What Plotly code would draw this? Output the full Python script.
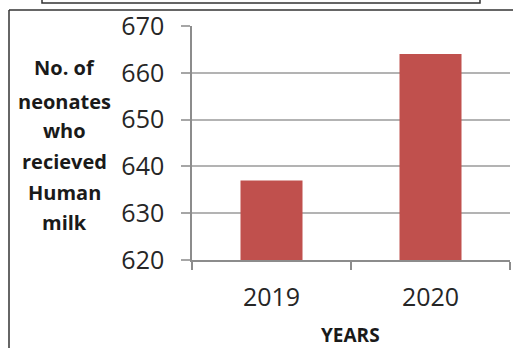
import plotly.graph_objects as go

years = ["2019", "2020"]
neonates = [637, 664]
y_title_lines = ["No. of", "neonates", "who", "recieved", "Human", "milk"]
x_title = "YEARS"

W, H = 513, 348
L, R, T, B = 192, 3, 26, 88
pw, ph = W - L - R, H - T - B

def px(x):
    return (x - L) / pw

def py(y):
    return 1 - (y - T) / ph

fig = go.Figure(go.Bar(x=years, y=neonates, marker_color="#C0504D",
                       marker_line_width=0, width=0.39))

font = "Open Sans, Liberation Sans, sans-serif"
fig.update_layout(
    width=W, height=H, margin=dict(l=L, r=R, t=T, b=B),
    paper_bgcolor="white", plot_bgcolor="white", showlegend=False,
    bargap=0.61,
    xaxis=dict(showline=True, linecolor="#8c8c8c", linewidth=1.5,
               ticks="outside", tickson="boundaries", ticklen=8,
               tickcolor="#8c8c8c", tickwidth=1.5,
               tickfont=dict(family=font, size=25, color="#262626"),
               ticklabelstandoff=14, showgrid=False),
    yaxis=dict(range=[620, 670], dtick=10, showline=True, linecolor="#8c8c8c",
               linewidth=1.5, ticks="outside", ticklen=9, tickcolor="#a6a6a6",
               tickwidth=1.5, gridcolor="#b3b3b3", gridwidth=1.5,
               zeroline=False,
               tickfont=dict(family=font, size=25, color="#262626"),
               ticklabelstandoff=12),
)

anns = []
ys = [67, 101, 130, 161, 192, 222]
for line, yy in zip(y_title_lines, ys):
    anns.append(dict(text=line, xref="paper", yref="paper", x=px(64), y=py(yy),
                     showarrow=False, xanchor="center", yanchor="middle",
                     font=dict(family=font, size=20, color="#1a1a1a", weight="bold")))
anns.append(dict(text=x_title, xref="paper", yref="paper", x=px(350), y=py(335),
                 showarrow=False, xanchor="center", yanchor="middle",
                 font=dict(family=font, size=19, color="#1a1a1a", weight="bold")))
fig.update_layout(annotations=anns)

shapes = [
    dict(type="line", xref="paper", yref="paper", x0=px(9), x1=px(9), y0=py(10), y1=py(360),
         line=dict(color="#333333", width=1.5)),
    dict(type="line", xref="paper", yref="paper", x0=px(9), x1=px(520), y0=py(10), y1=py(10),
         line=dict(color="#333333", width=1.5)),
    dict(type="rect", xref="paper", yref="paper", x0=px(42), x1=px(480), y0=py(3), y1=py(-10),
         line=dict(color="#333333", width=1.5)),
]
fig.update_layout(shapes=shapes)

fig.write_html("out.html")
